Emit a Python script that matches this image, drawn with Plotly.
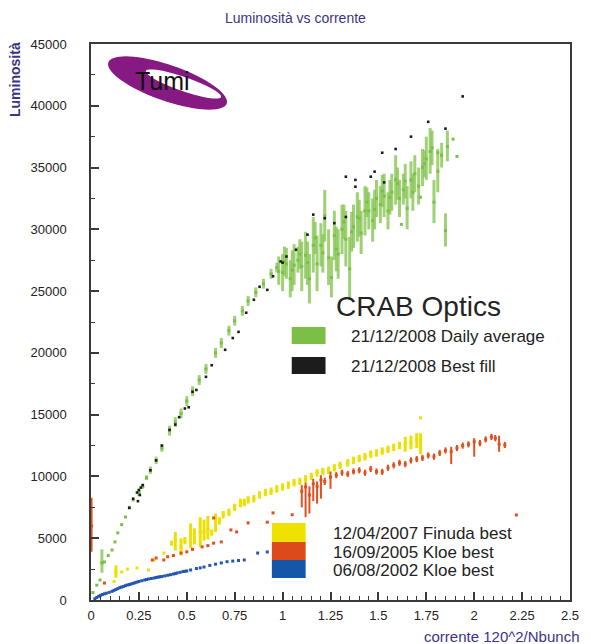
import math
import plotly.graph_objects as go

# ---------------- data ----------------
x_ticks = [0, 0.25, 0.5, 0.75, 1, 1.25, 1.5, 1.75, 2, 2.25, 2.5]
x_tick_labels = ["0", "0.25", "0.5", "0.75", "1", "1.25", "1.5", "1.75", "2", "2.25", "2.5"]
y_ticks = [0, 5000, 10000, 15000, 20000, 25000, 30000, 35000, 40000, 45000]
y_tick_labels = ["0", "5000", "10000", "15000", "20000", "25000", "30000", "35000", "40000", "45000"]

# 21/12/2008 Daily average (green): centre, low, high
green_x = [0.01, 0.03, 0.047, 0.057, 0.07, 0.09, 0.11, 0.125, 0.14, 0.16, 0.18, 0.20, 0.22, 0.25,
           0.27, 0.29, 0.31, 0.34, 0.37, 0.41, 0.44, 0.47, 0.50, 0.53, 0.565, 0.60, 0.65, 0.68,
           0.72, 0.75, 0.79, 0.82, 0.86, 0.90, 0.94, 0.97,
           0.98, 1.00, 1.02, 1.04, 1.06, 1.08, 1.10, 1.12, 1.14, 1.16, 1.18, 1.20, 1.22, 1.24,
           1.255, 1.27, 1.29, 1.31, 1.33, 1.35, 1.37, 1.39, 1.41, 1.43, 1.45, 1.47, 1.49, 1.51,
           1.53, 1.55, 1.57, 1.59, 1.61, 1.63, 1.65, 1.67, 1.69, 1.71, 1.73, 1.75, 1.77, 1.79,
           1.81, 1.83, 1.85, 1.86, 1.62, 1.72, 1.81, 1.89, 1.91,
           1.01, 1.05, 1.09, 1.13, 1.17, 1.21, 1.28, 1.32, 1.36, 1.40, 1.44, 1.48, 1.52, 1.56,
           1.60, 1.64, 1.68, 1.74, 1.78]
green_y = [600, 1200, 1620, 3000, 3080, 3600, 4050, 4700, 5430, 6100, 6720, 7500, 8100, 8700,
           9200, 9900, 10500, 11300, 12300, 13700, 14400, 15100, 16100, 16900, 17800, 18700, 20000, 20800,
           21800, 22600, 23400, 24200, 24900, 25600, 26400, 26900,
           26600, 26500, 27200, 26000, 27100, 27500, 27000, 27900, 26000, 28700, 27200, 28700, 31100, 27700,
           26100, 29500, 28000, 30000, 29200, 26800, 30200, 31000, 29700, 31500, 31500, 30700, 32500, 32000,
           32700, 31500, 33000, 34000, 32500, 33200, 31700, 34000, 34500, 33500, 35000, 35700, 36300, 32200,
           34700, 36000, 29900, 36700, 30400, 32600, 36200, 37300, 35900,
           27400, 26700, 28000, 27300, 29300, 28100, 28400, 30600, 29800, 30900, 32200, 31600, 33100, 32600,
           33700, 33900, 33000, 35300, 36600]
green_lo = [600, 1200, 1620, 2200, 3080, 3600, 4050, 4700, 5430, 6100, 6720, 7500, 8100, 8400,
            9000, 9700, 10200, 11000, 12000, 13300, 14000, 14700, 15700, 16500, 17400, 18300, 19600, 20400,
            21400, 22200, 23000, 23800, 24500, 25200, 26000, 26500,
            25500, 25000, 26000, 24500, 25500, 26500, 25000, 26000, 24000, 26500, 25000, 27000, 29000, 25500,
            24500, 27500, 26000, 28000, 27000, 24300, 28500, 29000, 28000, 29500, 30000, 29000, 31000, 30500,
            31000, 30000, 31500, 32000, 31000, 32000, 30000, 32500, 33000, 32000, 33500, 34000, 34500, 30500,
            33000, 35000, 28600, 35500, 30400, 32600, 36200, 37300, 35900,
            26200, 25000, 26800, 25500, 28000, 26500, 26600, 29200, 28200, 29400, 31000, 30000, 31800, 31200,
            32400, 32500, 31500, 34200, 35200]
green_hi = [600, 1200, 1620, 4100, 3080, 3600, 4050, 4700, 5430, 6100, 6720, 7500, 8100, 9000,
            9400, 10100, 10800, 11600, 12600, 14100, 14800, 15500, 16500, 17300, 18200, 19100, 20400, 21200,
            22200, 23000, 23800, 24600, 25300, 26000, 26800, 27300,
            27800, 28000, 28500, 27500, 28800, 28600, 29000, 29800, 28000, 31000, 29500, 30500, 33200, 30000,
            27800, 31500, 30000, 32000, 31500, 29400, 32000, 33000, 31500, 33500, 33000, 32500, 34000, 33500,
            34500, 33000, 34500, 36000, 34000, 34500, 33500, 35500, 36000, 35000, 36500, 37500, 38200, 34000,
            36500, 37000, 31300, 38000, 30400, 32600, 36200, 37300, 35900,
            28600, 28300, 29200, 29000, 30600, 29600, 30200, 32000, 31400, 32400, 33400, 33200, 34400, 34000,
            35000, 35300, 34500, 36400, 38000]

# 21/12/2008 Best fill (black)
black_x = [0.20, 0.22, 0.24, 0.245, 0.25, 0.255, 0.26, 0.27, 0.31, 0.34, 0.37, 0.41, 0.44, 0.46,
           0.49, 0.51, 0.53, 0.55, 0.60, 0.63, 0.70, 0.74, 0.77, 0.81, 0.85, 0.88, 0.92, 0.95,
           0.99, 1.00, 1.02, 1.07, 1.13, 1.16, 1.22, 1.27, 1.33, 1.33, 1.38, 1.38, 1.46, 1.48,
           1.52, 1.53, 1.59, 1.67, 1.76, 1.85, 1.94]
black_y = [7450, 8200, 8700, 8000, 8900, 8500, 9100, 9300, 10500, 11300, 12500, 13770, 14200, 14800,
           15500, 15600, 16850, 17000, 18060, 19000, 20250, 21200, 21700, 23250, 24300, 25350, 25100, 26200,
           27400, 27300, 27800, 28350, 29570, 31190, 30900, 30500, 34260, 31000, 34000, 33450, 34260, 34670,
           36200, 33800, 36500, 37500, 38700, 38150, 40760]

# 12/04/2007 Finuda best (yellow)
yellow_x = [0.12, 0.13, 0.16, 0.19, 0.24, 0.30, 0.33, 0.38, 0.42, 0.44, 0.47, 0.49, 0.52, 0.54,
            0.57, 0.59, 0.61, 0.63, 0.65, 0.67, 0.69, 0.72, 0.75, 0.78, 0.80, 0.82, 0.85, 0.88,
            0.91, 0.94, 0.97, 1.00, 1.03, 1.06, 1.09, 1.12, 1.15, 1.18, 1.21, 1.24, 1.27, 1.30,
            1.34, 1.37, 1.40, 1.43, 1.46, 1.49, 1.52, 1.55, 1.58, 1.61, 1.64, 1.67, 1.70, 1.72, 1.72]
yellow_y = [1500, 2300, 2270, 2500, 2590, 2430, 3240, 3800, 4600, 4900, 4300, 4800, 5300, 5100,
            5500, 5500, 5700, 5430, 6200, 6400, 6900, 7100, 7500, 7860, 7900, 8100, 8200, 8500,
            8700, 8800, 9000, 9150, 9300, 9500, 9600, 9800, 10000, 10280, 10400, 10500, 10700, 10900,
            11100, 11300, 11450, 11600, 11800, 11900, 12050, 12200, 12350, 12500, 12600, 12750, 12900, 12960, 14740]
yellow_lo = [1500, 1800, 2270, 2500, 2590, 2430, 3240, 3800, 4400, 4000, 3600, 4500, 4200, 4500,
             4300, 4800, 4900, 5200, 5500, 6100, 6600, 6800, 7200, 7500, 7600, 7800, 7900, 8200,
             8400, 8500, 8700, 8850, 9000, 9200, 9300, 9500, 9700, 9980, 10100, 10200, 10400, 10600,
             10800, 11000, 11150, 11300, 11500, 11600, 11750, 11900, 12050, 12200, 12000, 12200, 12300, 11800, 14740]
yellow_hi = [1500, 2800, 2270, 2500, 2590, 2430, 3240, 3800, 4800, 5500, 5000, 5100, 6200, 5800,
             6700, 6500, 6800, 5700, 7000, 6700, 7200, 7400, 7800, 8200, 8200, 8400, 8500, 8800,
             9000, 9100, 9300, 9450, 9600, 9800, 9900, 10100, 10300, 10580, 10700, 10800, 11000, 11200,
             11400, 11600, 11750, 11900, 12100, 12200, 12350, 12500, 12650, 12800, 13200, 13300, 13500, 13500, 14740]

# 16/09/2005 Kloe best (orange)
orange_x = [0.003, 0.07, 0.32, 0.34, 0.38, 0.40, 0.43, 0.47, 0.50, 0.53, 0.58, 0.61, 0.64, 0.64,
            0.68, 0.73, 0.76, 0.82, 0.92, 0.95, 1.05, 1.10, 1.12, 1.14, 1.16, 1.18, 1.20, 1.22,
            1.25, 1.28, 1.31, 1.34, 1.37, 1.40, 1.43, 1.46, 1.49, 1.52, 1.55, 1.58, 1.61, 1.64,
            1.67, 1.70, 1.73, 1.76, 1.79, 1.82, 1.85, 1.88, 1.91, 1.94, 1.97, 2.00, 2.03, 2.06,
            2.09, 2.11, 2.13, 2.16, 2.22]
orange_y = [6000, 1370, 3240, 3400, 3240, 3500, 3600, 3800, 3900, 4100, 4300, 4400, 4600, 6640,
            4700, 5670, 5510, 6240, 6300, 7050, 6900, 8800, 9150, 8500, 9400, 9200, 9700, 9600,
            9950, 10100, 10300, 10200, 10400, 10500, 10300, 10600, 10400, 10370, 10700, 10900, 11100, 11000,
            11300, 11400, 11500, 11700, 11600, 11900, 12100, 12000, 12300, 12500, 12600, 12800, 12700, 13000,
            13200, 13100, 12600, 12550, 6880]
orange_lo = [3900, 1370, 3240, 3400, 3240, 3500, 3600, 3800, 3900, 4100, 4300, 4400, 4600, 6640,
             4700, 5670, 5510, 6240, 6300, 7050, 6900, 7500, 6700, 7000, 8000, 7800, 8200, 9300,
             9000, 9850, 10050, 9950, 10150, 10250, 10050, 10350, 10150, 10120, 10450, 10650, 10850, 10750,
             11050, 11150, 11250, 11450, 11350, 11650, 11850, 11000, 12050, 12250, 12350, 11600, 12450, 12750,
             12950, 12850, 12000, 12300, 6880]
orange_hi = [8270, 1370, 3240, 3400, 3240, 3500, 3600, 3800, 3900, 4100, 4300, 4400, 4600, 6640,
             4700, 5670, 5510, 6240, 6300, 7050, 6900, 9300, 9500, 9200, 9800, 9600, 10100, 9900,
             10400, 10350, 10550, 10450, 10650, 10750, 10550, 10850, 10650, 10620, 10950, 11150, 11350, 11250,
             11550, 11650, 11750, 11950, 11850, 12150, 12350, 12400, 12550, 12750, 12850, 13100, 12950, 13250,
             13450, 13350, 13300, 12800, 6880]

# 06/08/2002 Kloe best (blue)
blue_x = [0.02, 0.03, 0.04, 0.05, 0.06, 0.07, 0.08, 0.095, 0.11, 0.12, 0.13, 0.14, 0.15, 0.16,
          0.17, 0.18, 0.19, 0.20, 0.21, 0.22, 0.23, 0.24, 0.25, 0.265, 0.28, 0.29, 0.30, 0.315,
          0.33, 0.34, 0.35, 0.36, 0.37, 0.385, 0.40, 0.415, 0.43, 0.44, 0.45, 0.465, 0.48, 0.49,
          0.50, 0.52, 0.55, 0.57, 0.59, 0.62, 0.65, 0.68, 0.71, 0.74, 0.77, 0.80, 0.87, 0.92]
blue_y = [100, 200, 300, 380, 450, 500, 550, 620, 700, 780, 850, 920, 1000, 1050,
          1100, 1160, 1215, 1250, 1300, 1350, 1400, 1450, 1500, 1560, 1620, 1660, 1700, 1740,
          1780, 1820, 1850, 1880, 1900, 1950, 2000, 2050, 2100, 2140, 2190, 2240, 2300, 2320,
          2350, 2430, 2550, 2600, 2670, 2800, 2900, 3000, 3100, 3150, 3200, 3240, 3800, 3890]

legend_a_title = "CRAB Optics"
legend_a_labels = ["21/12/2008 Daily average", "21/12/2008 Best fill"]
legend_b_labels = ["12/04/2007 Finuda best", "16/09/2005 Kloe best", "06/08/2002 Kloe best"]

# ---------------- styling ----------------
C_GREEN = "#7bbf45"
C_GREEN_BAR = "rgba(135,198,85,0.8)"
C_BLACK = "#1c1c1c"
C_YELLOW = "#ebe000"
C_ORANGE = "#e0501e"
C_BLUE = "#2556b0"
C_NAVY = "#3b3486"
TXT = "#232323"
FONT = "Liberation Sans"

L, R, T, B = 91, 18, 44, 44
W, H = 591, 644
PW, PH = W - L - R, H - T - B


def PX(x):
    return (x - L) / PW


def PY(y):
    return (H - B - y) / PH


def err(ys, lo, hi):
    return [h - y for y, h in zip(ys, hi)], [y - l for y, l in zip(ys, lo)]


fig = go.Figure()

gp, gm = err(green_y, green_lo, green_hi)
fig.add_trace(go.Scatter(x=green_x, y=green_y, mode="markers",
                         marker=dict(symbol="square", size=3, color=C_GREEN),
                         error_y=dict(type="data", symmetric=False, array=gp, arrayminus=gm,
                                      width=0, thickness=3, color=C_GREEN_BAR),
                         showlegend=False, hoverinfo="skip"))
fig.add_trace(go.Scatter(x=black_x, y=black_y, mode="markers",
                         marker=dict(symbol="square", size=2.6, color=C_BLACK),
                         showlegend=False, hoverinfo="skip"))
yp, ym = err(yellow_y, yellow_lo, yellow_hi)
fig.add_trace(go.Scatter(x=yellow_x, y=yellow_y, mode="markers",
                         marker=dict(symbol="square", size=3, color=C_YELLOW),
                         error_y=dict(type="data", symmetric=False, array=yp, arrayminus=ym,
                                      width=0, thickness=3, color=C_YELLOW),
                         showlegend=False, hoverinfo="skip"))
op, om = err(orange_y, orange_lo, orange_hi)
fig.add_trace(go.Scatter(x=orange_x, y=orange_y, mode="markers",
                         marker=dict(symbol="square", size=3, color=C_ORANGE),
                         error_y=dict(type="data", symmetric=False, array=op, arrayminus=om,
                                      width=0, thickness=2, color=C_ORANGE),
                         showlegend=False, hoverinfo="skip"))
fig.add_trace(go.Scatter(x=blue_x, y=blue_y, mode="markers",
                         marker=dict(symbol="square", size=3, color=C_BLUE),
                         showlegend=False, hoverinfo="skip"))

shapes = []
annotations = []


def box(x0, y0, x1, y1, color):
    shapes.append(dict(type="rect", xref="paper", yref="paper", layer="below",
                       x0=PX(x0), x1=PX(x1), y0=PY(y1), y1=PY(y0),
                       fillcolor=color, line=dict(width=0)))


def text(x, y, s, size, color=TXT, xanchor="left", family=FONT, angle=0):
    annotations.append(dict(x=PX(x), y=PY(y), xref="paper", yref="paper", text=s,
                            showarrow=False, xanchor=xanchor, yanchor="middle", textangle=angle,
                            font=dict(size=size, color=color, family=family)))


# legend A
text(336, 306, legend_a_title, 28)
box(293, 327, 327, 344, C_GREEN)
box(293, 357, 327, 374, C_BLACK)
text(351, 336, legend_a_labels[0], 17)
text(351, 366, legend_a_labels[1], 17)

# legend B
box(273, 523, 307, 542, "#f0e200")
box(273, 542, 307, 560, "#dc4a1c")
box(273, 560, 307, 578, "#1656a8")
text(333, 533, legend_b_labels[0], 17)
text(333, 552, legend_b_labels[1], 17)
text(333, 570, legend_b_labels[2], 17)


# logo
def ellipse(cx, cy, a, b, ang, reverse=False, n=72):
    t = math.radians(ang)
    pts = []
    for i in range(n):
        th = 2 * math.pi * i / n
        if reverse:
            th = -th
        ex, ey = a * math.cos(th), b * math.sin(th)
        px = cx + ex * math.cos(t) - ey * math.sin(t)
        py = cy + ex * math.sin(t) + ey * math.cos(t)
        pts.append(f"{PX(px):.5f},{PY(py):.5f}")
    return "M" + " L".join(pts) + " Z"


logo_path = ellipse(168, 83, 63, 18, 19) + " " + ellipse(184, 84, 40, 7, 19, reverse=True)
shapes.append(dict(type="path", xref="paper", yref="paper", path=logo_path,
                   fillcolor="#861a82", line=dict(width=0), layer="above"))
text(163, 81, "Tumi", 25, color="#111", xanchor="center")

# titles
text(297, 18, "Luminosità vs corrente", 14, color=C_NAVY, xanchor="center")
annotations.append(dict(x=PX(14), y=PY(40), xref="paper", yref="paper", text="<b>Luminosità</b>",
                        showarrow=False, xanchor="center", yanchor="top", textangle=-90,
                        font=dict(size=14, color=C_NAVY, family=FONT)))
annotations.append(dict(x=PX(584), y=PY(636), xref="paper", yref="paper",
                        text="corrente 120^2/Nbunch", showarrow=False, xanchor="right",
                        yanchor="middle", font=dict(size=15, color=C_NAVY, family=FONT)))

axis_common = dict(showgrid=False, zeroline=False, showline=True, linecolor="#3a3a3a",
                   linewidth=1.5, mirror=True, ticks="inside", tickcolor="#3a3a3a",
                   tickwidth=1.5, ticklen=8,
                   tickfont=dict(family=FONT, size=13, color=TXT))

fig.update_layout(
    width=W, height=H, margin=dict(l=L, r=R, t=T, b=B),
    paper_bgcolor="white", plot_bgcolor="white",
    xaxis=dict(range=[0, 2.5], tickvals=x_ticks, ticktext=x_tick_labels,
               minor=dict(tickvals=[i * 0.05 for i in range(51)], ticks="inside", ticklen=4,
                          tickcolor="#3a3a3a", tickwidth=1.2),
               ticklabelstandoff=3, **axis_common),
    yaxis=dict(range=[0, 45000], tickvals=y_ticks, ticktext=y_tick_labels,
               minor=dict(tickvals=[i * 2500 for i in range(19)], ticks="inside", ticklen=4,
                          tickcolor="#3a3a3a", tickwidth=1.2),
               ticklabelstandoff=20, **axis_common),
    shapes=shapes, annotations=annotations, showlegend=False,
)

fig.write_html("out.html")
